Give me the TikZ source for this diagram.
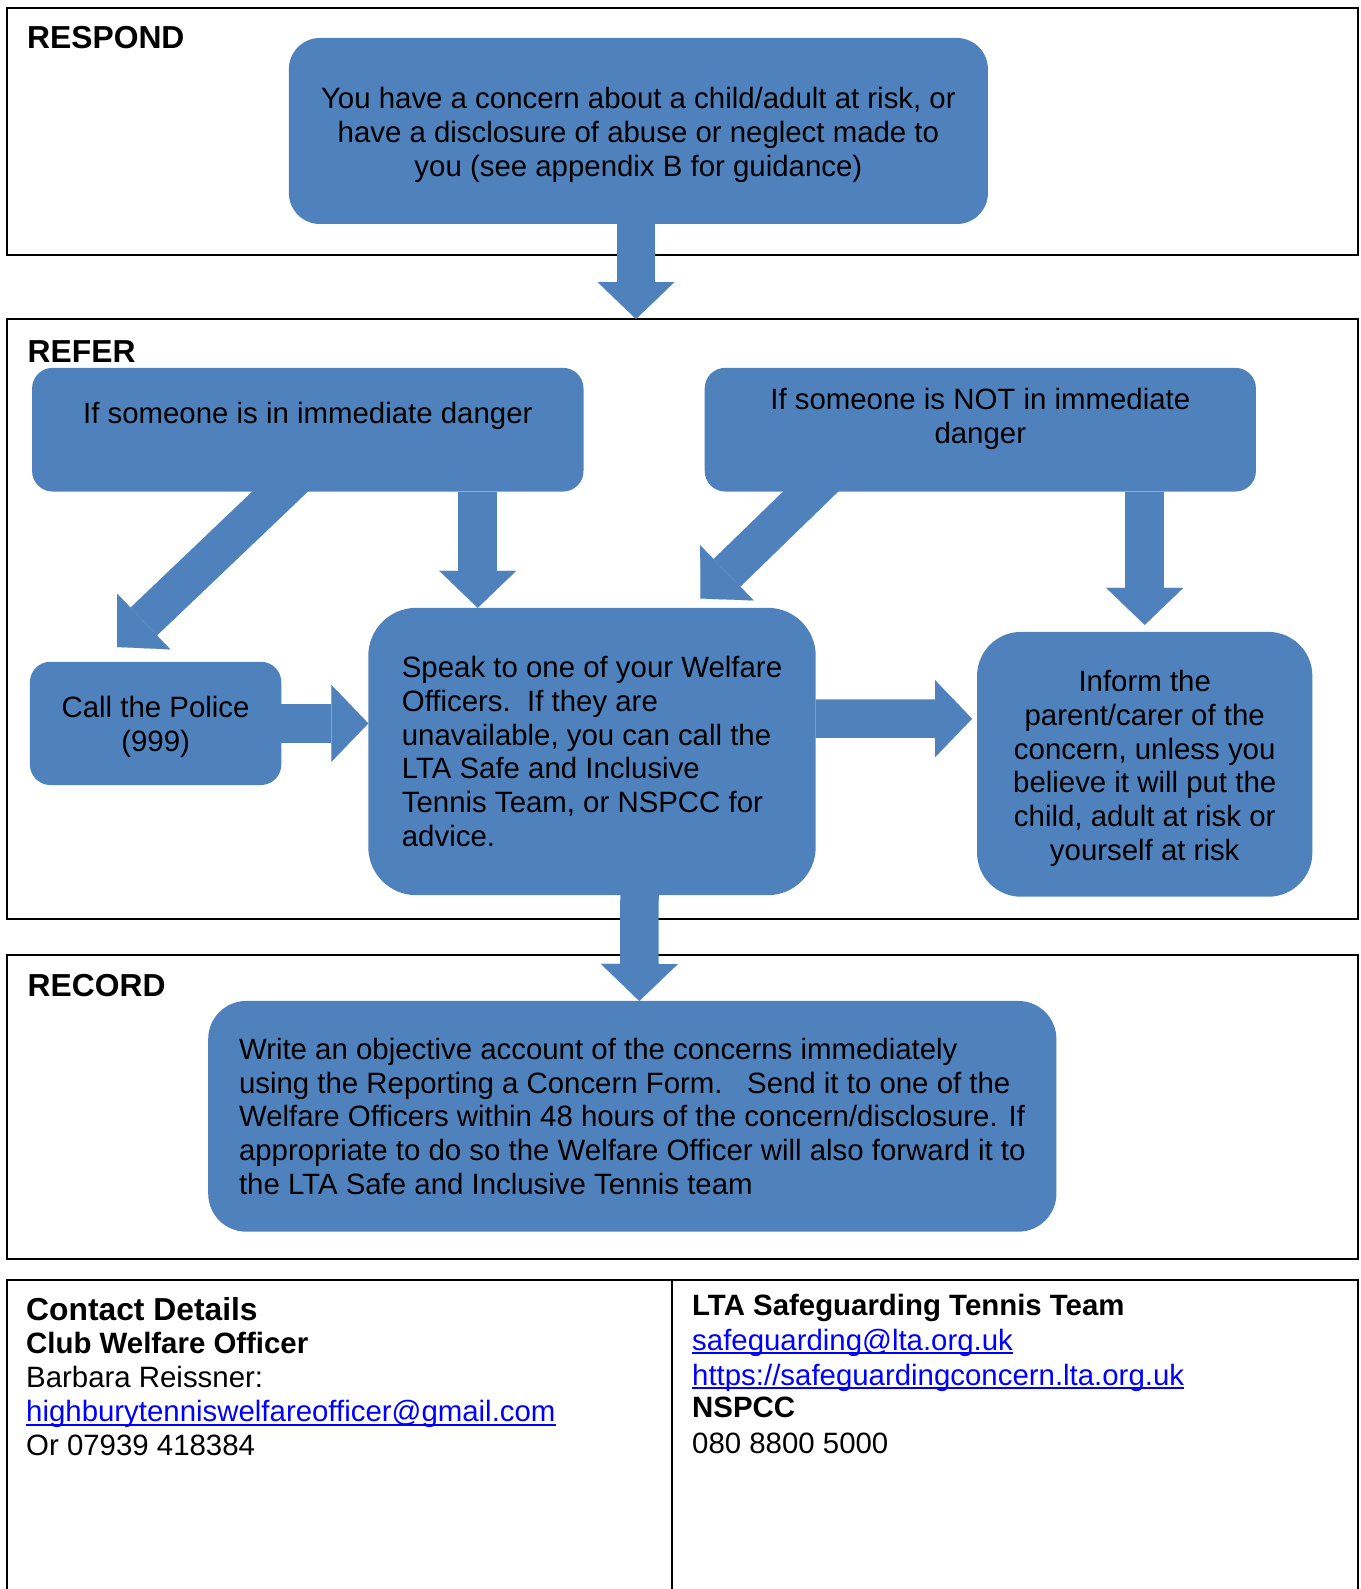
\documentclass[tikz,border=0pt]{standalone}
\usepackage{fontspec}
\setmainfont{Liberation Sans}
\usepackage{tikz}
\usetikzlibrary{arrows.meta}

\definecolor{boxblue}{RGB}{79,129,189}
\definecolor{linkblue}{RGB}{0,0,255}

\tikzset{
    panel/.style={draw=black, line width=2pt},
    bluebox/.style={fill=boxblue, draw=none, outer sep=0pt},
    boxtext/.style={font=\fontsize{29.4}{33.7}\selectfont, align=center},
    heading/.style={font=\fontsize{31.8}{36}\selectfont\bfseries, anchor=base west, inner sep=0pt},
    contact/.style={font=\fontsize{29.4}{33.7}\selectfont, anchor=base west, inner sep=0pt},
    boldcontact/.style={contact, font=\fontsize{29.4}{33.7}\selectfont\bfseries},
    link/.style={contact, text=linkblue},
    underline/.style={draw=linkblue, line width=2.1pt},
    fatarrow/.style={draw=boxblue, line width=38.5pt, -{Triangle[width=77pt,length=37pt,line width=0.1pt]}}
}

\begin{document}
\begin{tikzpicture}[x=1pt, y=-1pt]
                \useasboundingbox (0,0) rectangle (1360,1589);

                \draw[panel] (7,8) rectangle (1358,255);
                \draw[panel] (7,319) rectangle (1358,919);
                \draw[panel] (7,955) rectangle (1358,1259);
                \draw[panel] (7,1600) -- (7,1280) -- (1358,1280) -- (1358,1600);
                \draw[panel] (672,1280) -- (672,1600);
                \coordinate (refertop) at (636,319);

                \node[heading] (respondlbl) at (27,48.3) {RESPOND};
                \node[heading] (referlbl) at (27.5,362) {REFER};
                \node[heading] (recordlbl) at (27.5,996.7) {RECORD};

                \node[bluebox, rounded corners=31pt, minimum width=699pt, minimum height=186pt]
                (concern) at (638.4,131) {};
                \node[boxtext] (concerntxt) at (638.4,134.8) {You have a concern about a child/adult at risk, or\\have a disclosure of abuse or neglect made to\\you (see appendix B for guidance)};

                \node[bluebox, rounded corners=20.5pt, minimum width=551.4pt, minimum height=123.7pt]
                (danger) at (307.8,429.7) {};
                \node[boxtext] (dangertxt) at (307.8,416) {If someone is in immediate danger};

                \node[bluebox, rounded corners=20.5pt, minimum width=551.2pt, minimum height=123.7pt]
                (notdanger) at (980.3,429.7) {};
                \node[boxtext] (notdangertxt) at (980.3,419.2) {If someone is NOT in immediate\\danger};

                \node[bluebox, rounded corners=20.5pt, minimum width=251.4pt, minimum height=123.3pt]
                (police) at (155.6,723.4) {};
                \node[boxtext] (policetxt) at (155.6,727) {Call the Police\\(999)};

                \node[bluebox, rounded corners=48pt, minimum width=447.4pt, minimum height=287.4pt, boxtext, align=left]
                (speak) at (592,751.5) {Speak to one of your Welfare\\Officers.\ \ If they are\\unavailable, you can call the\\LTA Safe and Inclusive\\Tennis Team, or NSPCC for\\advice.};

                \node[bluebox, rounded corners=44pt, minimum width=335.3pt, minimum height=264.8pt]
                (inform) at (1144.7,764.3) {};
                \node[boxtext] (informtxt) at (1144.7,768.3) {Inform the\\parent/carer of the\\concern, unless you\\believe it will put the\\child, adult at risk or\\yourself at risk};

                \node[bluebox, rounded corners=38pt, minimum width=848.2pt, minimum height=230.7pt, boxtext, align=left]
                (record) at (632.3,1116.3) {Write an objective account of the concerns immediately\\using the Reporting a Concern Form.\ \ \ Send it to one of the\\Welfare Officers within 48 hours of the concern/disclosure. If\\appropriate to do so the Welfare Officer will also forward it to\\the LTA Safe and Inclusive Tennis team};

                \draw[fatarrow] (concern.south -| refertop) -- (refertop);
                \draw[fatarrow] ([xshift=-6pt,yshift=20.7pt]danger.south) -- ([xshift=-38.6pt,yshift=14.7pt]police.north);
                \draw[fatarrow] ([xshift=169.9pt]danger.south) -- ([xshift=-114.3pt]speak.north);
                \draw[fatarrow] ([xshift=-147.6pt,yshift=21.4pt]notdanger.south) -- ([xshift=-115.3pt,yshift=9.2pt]speak.north east);
                \draw[fatarrow] (inform.north |- notdanger.south) -- ([yshift=7pt]inform.north);
                \draw[fatarrow] (police.east) -- (police.east -| speak.west);
                \draw[fatarrow] ([yshift=33pt]speak.east) -- ([xshift=-5pt,yshift=45.5pt]inform.west);
                \draw[fatarrow] ([xshift=47.5pt]speak.south) -- ([xshift=7pt]record.north);

                \node[heading] (contacthdr) at (26,1320) {Contact Details};
                \node[boldcontact] (welfarehdr) at (26,1353.3) {Club Welfare Officer};
                \node[contact] (welfarename) at (26,1387.3) {Barbara Reissner:};
                \node[link] (welfaremail) at (26,1421.7) {highburytenniswelfareofficer@gmail.com};
                \node[contact] (welfarephone) at (26,1455.7) {Or 07939 418384};

                \node[boldcontact] (ltahdr) at (692,1315) {LTA Safeguarding Tennis Team};
                \node[link] (ltamail) at (692,1350) {safeguarding@lta.org.uk};
                \node[link] (ltaurl) at (692,1385) {https://safeguardingconcern.lta.org.uk};
                \node[boldcontact] (nspcchdr) at (692,1417.3) {NSPCC};
                \node[contact] (nspccphone) at (692,1453.3) {080 8800 5000};

                \foreach \lnk in {welfaremail,ltamail,ltaurl}
                    \draw[underline] ([yshift=-3.2pt]\lnk.base west) -- ([yshift=-3.2pt]\lnk.base east);
\end{tikzpicture}
\end{document}
